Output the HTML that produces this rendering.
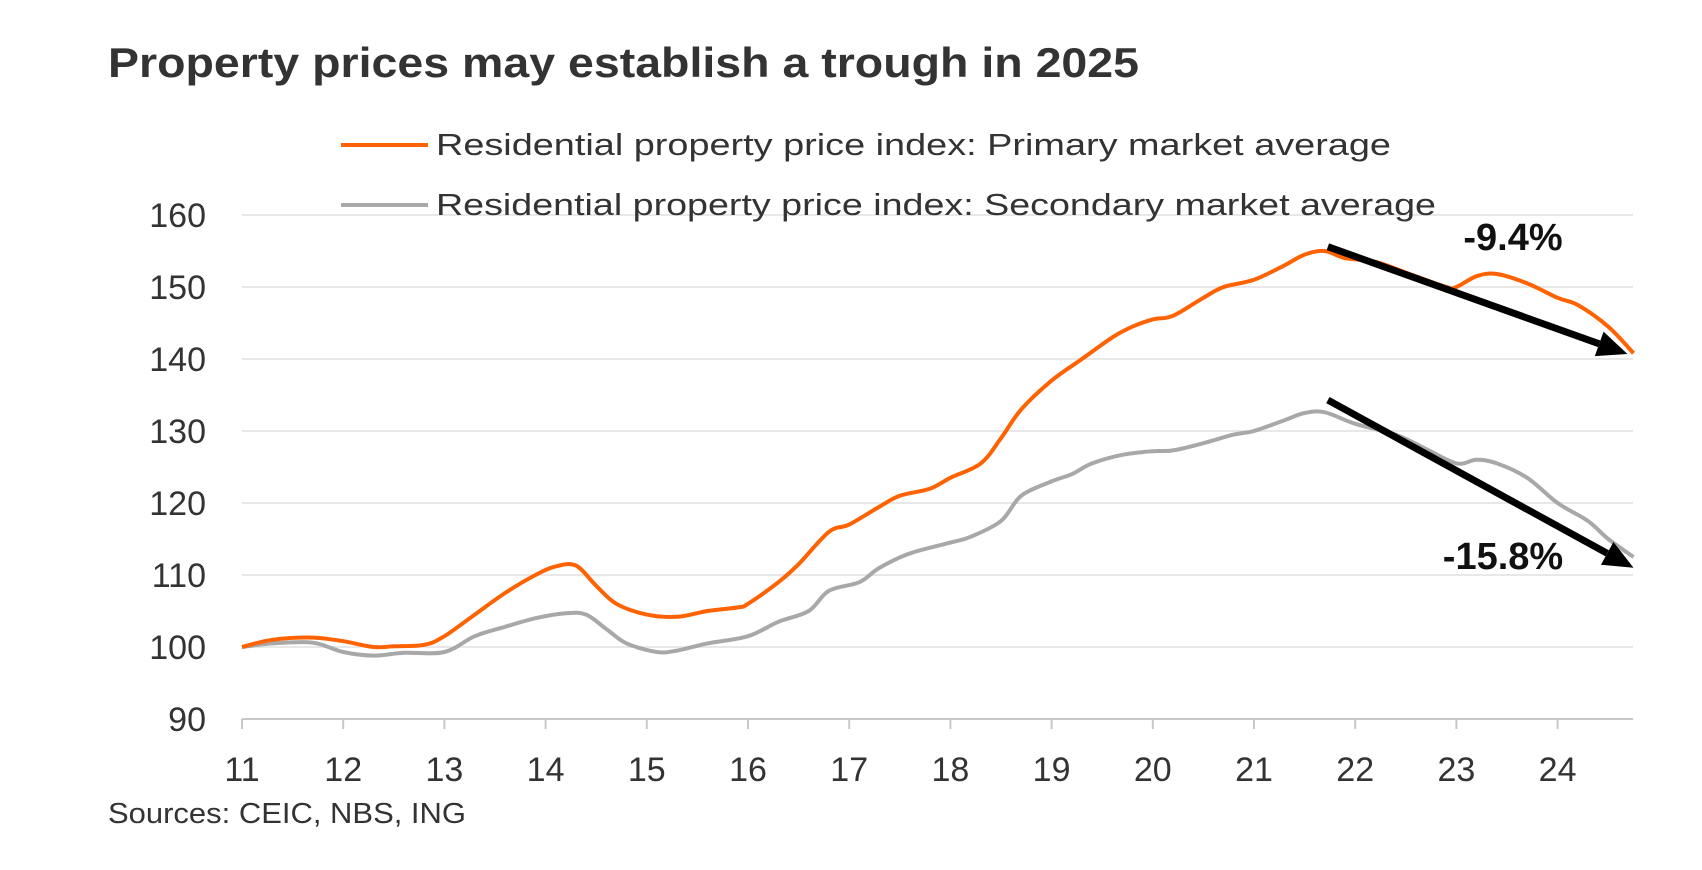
<!DOCTYPE html>
<html><head><meta charset="utf-8">
<style>
html,body{margin:0;padding:0;background:#fff;width:1702px;height:870px;overflow:hidden}
svg{display:block}
.t{font-family:"Liberation Sans",sans-serif}
</style></head>
<body>
<svg id="chart" width="1702" height="870">
<text x="108" y="77" class="t" font-size="42" font-weight="bold" fill="#333" textLength="1031" lengthAdjust="spacingAndGlyphs">Property prices may establish a trough in 2025</text>
<g id="grid"></g><g id="axes"></g><g id="series"></g><g id="ann"></g>
<g>
<line x1="341" y1="145" x2="428" y2="145" stroke="#ff6200" stroke-width="4"/>
<text x="436" y="155" class="t" font-size="31" fill="#333" textLength="955" lengthAdjust="spacingAndGlyphs">Residential property price index: Primary market average</text>
<line x1="341" y1="205" x2="428" y2="205" stroke="#a8a8a8" stroke-width="4"/>
<text x="436" y="215" class="t" font-size="31" fill="#333" textLength="1000" lengthAdjust="spacingAndGlyphs">Residential property price index: Secondary market average</text>
</g>
<text x="108" y="823" class="t" font-size="29" fill="#333" textLength="358" lengthAdjust="spacingAndGlyphs">Sources: CEIC, NBS, ING</text>
</svg>
<script>
const yTicks=[90,100,110,120,130,140,150,160];
const xTickYears=[2011,2012,2013,2014,2015,2016,2017,2018,2019,2020,2021,2022,2023,2024];
const xTickLabels=["11","12","13","14","15","16","17","18","19","20","21","22","23","24"];
const primaryT=[2011,2011.3,2011.7,2012,2012.3,2012.5,2012.8,2013,2013.3,2013.6,2013.9,2014.1,2014.3,2014.5,2014.7,2015,2015.3,2015.6,2015.9,2016,2016.3,2016.5,2016.8,2017,2017.3,2017.5,2017.8,2018,2018.3,2018.5,2018.7,2019,2019.3,2019.6,2019.8,2020,2020.2,2020.5,2020.7,2021,2021.3,2021.5,2021.7,2021.9,2022.2,2022.5,2022.9,2023,2023.2,2023.4,2023.7,2024,2024.2,2024.5,2024.75];
const primaryV=[100,101,101.3,100.8,100,100.1,100.3,101.5,104.5,107.5,110,111.2,111.3,108.5,106,104.5,104.2,105,105.5,106,109,111.5,116,117,119.5,121,122,123.5,125.5,129,133,137,140,143,144.5,145.5,146,148.5,150,151,153,154.5,155,154,153.5,152,150,150,151.5,151.8,150.5,148.5,147.5,144.5,140.8];
const secondaryT=[2011,2011.3,2011.7,2012,2012.3,2012.6,2013,2013.3,2013.6,2013.9,2014.2,2014.4,2014.6,2014.8,2015.1,2015.3,2015.6,2016,2016.3,2016.6,2016.8,2017.1,2017.3,2017.6,2018,2018.2,2018.5,2018.7,2019,2019.2,2019.4,2019.7,2020,2020.2,2020.5,2020.8,2021,2021.3,2021.5,2021.7,2022,2022.4,2022.7,2023,2023.2,2023.4,2023.7,2024,2024.3,2024.5,2024.75];
const secondaryV=[100,100.5,100.6,99.3,98.8,99.2,99.3,101.5,102.8,104,104.7,104.5,102.5,100.5,99.3,99.5,100.5,101.5,103.5,105,107.8,109,111,113,114.5,115.3,117.5,121,123,124,125.5,126.7,127.2,127.3,128.3,129.5,130,131.5,132.5,132.6,131,129.5,127.5,125.5,126,125.5,123.5,120,117.5,115,112.5];
const arrowStartT=[2021.73,2021.73];
const arrowStartV=[155.6,134.3];
const arrowEndT=[2024.69,2024.75];
const arrowEndV=[140.7,111.0];
const arrowLabels=["-9.4%","-15.8%"];

const NS="http://www.w3.org/2000/svg";
const X=t=>242+(t-2011)*101.2;
const Y=v=>719-(v-90)*7.2;
function mk(tag,attrs,parent){const e=document.createElementNS(NS,tag);for(const k in attrs)e.setAttribute(k,attrs[k]);parent.appendChild(e);return e;}
const grid=document.getElementById('grid'),axes=document.getElementById('axes'),series=document.getElementById('series'),ann=document.getElementById('ann');
yTicks.forEach(v=>{
  if(v>90){const l=mk('line',{x1:242,x2:1633,y1:Y(v),y2:Y(v),stroke:'#e8e8e8','stroke-width':2},grid);
  
  }
  const t=mk('text',{x:206,y:Y(v)+12,'text-anchor':'end','font-size':34,fill:'#333',class:'t'},axes);t.textContent=v;
  
  
});
const ax=mk('line',{x1:242,x2:1633,y1:Y(90),y2:Y(90),stroke:'#c8c8c8','stroke-width':2},axes);


xTickYears.forEach((yr,i)=>{
  const tk=mk('line',{x1:X(yr),x2:X(yr),y1:Y(90),y2:Y(90)+10,stroke:'#c8c8c8','stroke-width':2},axes);
  
  
  const t=mk('text',{x:X(yr),y:781,'text-anchor':'middle','font-size':34,fill:'#333',class:'t'},axes);t.textContent=xTickLabels[i];
  
  
});
function path(ts,vs){
  const p=ts.map((t,i)=>[X(t),Y(vs[i])]);
  let d='M'+p[0][0].toFixed(1)+','+p[0][1].toFixed(1);
  for(let i=0;i<p.length-1;i++){
    const p0=p[Math.max(0,i-1)],p1=p[i],p2=p[i+1],p3=p[Math.min(p.length-1,i+2)];
    const c1x=p1[0]+(p2[0]-p0[0])/6,c1y=p1[1]+(p2[1]-p0[1])/6;
    const c2x=p2[0]-(p3[0]-p1[0])/6,c2y=p2[1]-(p3[1]-p1[1])/6;
    d+=` C${c1x.toFixed(1)},${c1y.toFixed(1)} ${c2x.toFixed(1)},${c2y.toFixed(1)} ${p2[0].toFixed(1)},${p2[1].toFixed(1)}`;
  }
  return d;
}
const ps=mk('path',{d:path(secondaryT,secondaryV),fill:'none',stroke:'#a8a8a8','stroke-width':4,'stroke-linejoin':'round'},series);


const pp=mk('path',{d:path(primaryT,primaryV),fill:'none',stroke:'#ff6200','stroke-width':4,'stroke-linejoin':'round'},series);


arrowStartT.forEach((t0,i)=>{
  const x1=X(t0),y1=Y(arrowStartV[i]),x2=X(arrowEndT[i]),y2=Y(arrowEndV[i]);
  const a=Math.atan2(y2-y1,x2-x1),L=30,W=13;
  const bx=x2-L*Math.cos(a),by=y2-L*Math.sin(a);
  const g=mk('g',{},ann);
  
  
  mk('line',{x1:x1,y1:y1,x2:bx,y2:by,stroke:'#000','stroke-width':7},g);
  mk('polygon',{points:`${x2},${y2} ${bx+W*Math.sin(a)},${by-W*Math.cos(a)} ${bx-W*Math.sin(a)},${by+W*Math.cos(a)}`,fill:'#000'},g);
});
const l1=mk('text',{x:1513,y:250,'text-anchor':'middle','font-size':38,'font-weight':'bold',fill:'#111',class:'t'},ann);l1.textContent=arrowLabels[0];


const l2=mk('text',{x:1503,y:569,'text-anchor':'middle','font-size':38,'font-weight':'bold',fill:'#111',class:'t'},ann);l2.textContent=arrowLabels[1];


</script>
</body></html>
